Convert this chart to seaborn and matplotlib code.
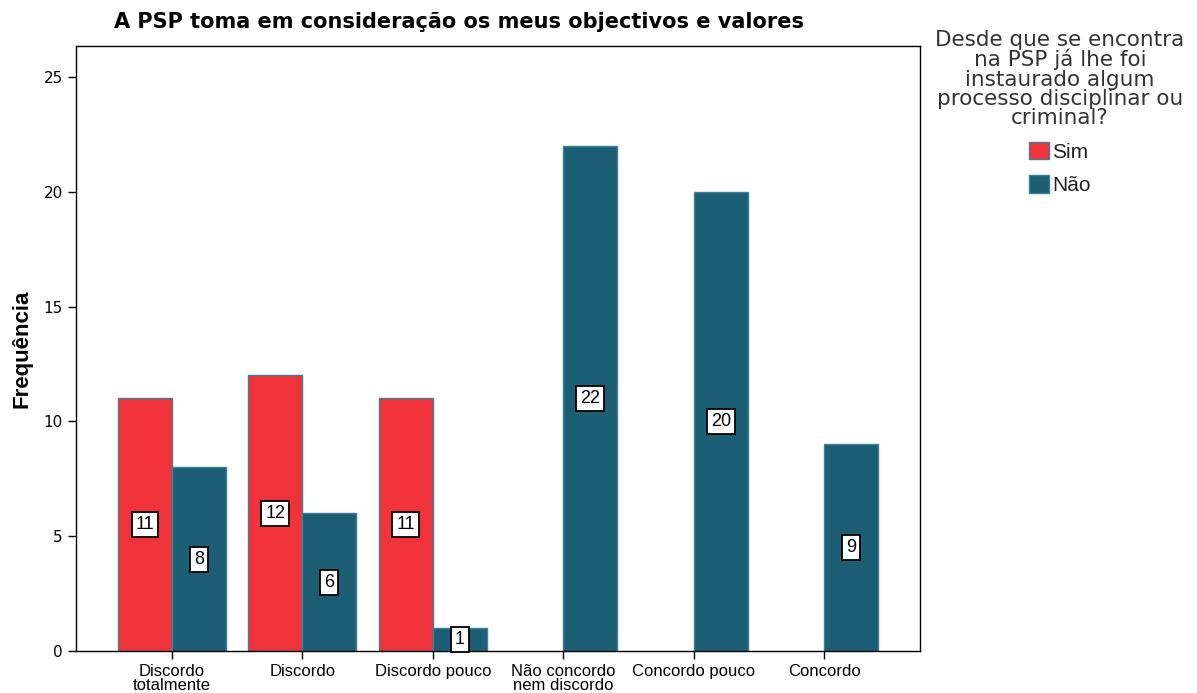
import matplotlib
matplotlib.use("Agg")
import matplotlib.pyplot as plt
import seaborn as sns
import pandas as pd
import numpy as np
from matplotlib.patches import Patch

categories = ["Discordo\ntotalmente", "Discordo", "Discordo pouco",
              "Não concordo\nnem discordo", "Concordo pouco", "Concordo"]
hue_levels = ["Sim", "Não"]
sim_values = [11, 12, 11, None, None, None]
nao_values = [8, 6, 1, 22, 20, 9]
colors = {"Sim": "#F0323A", "Não": "#1C5F74"}

rows = []
for c, s, n in zip(categories, sim_values, nao_values):
    if s is not None:
        rows.append({"cat": c, "grp": "Sim", "val": s})
    if n is not None:
        rows.append({"cat": c, "grp": "Não", "val": n})
df = pd.DataFrame(rows)

sns.set_style("white")
plt.rcParams['font.family'] = ['Liberation Sans', 'DejaVu Sans']
plt.rcParams['text.color'] = 'black'
plt.rcParams['axes.labelcolor'] = 'black'
plt.rcParams['xtick.color'] = 'black'
plt.rcParams['ytick.color'] = 'black'

fig = plt.figure(figsize=(11.97, 6.93), dpi=100)
ax = fig.add_axes([76/1197, 1-651/693, (920-76)/1197, (651-46)/693])

sns.barplot(data=df, x="cat", y="val", hue="grp", order=categories,
            hue_order=hue_levels, palette=colors, width=0.83, dodge=True,
            edgecolor="#3E7F96", linewidth=1.0, ax=ax, legend=False,
            errorbar=None, saturation=1)

for cont in ax.containers:
    for bar in cont:
        h = bar.get_height()
        if h is None or np.isnan(h) or h == 0:
            continue
        ax.text(bar.get_x() + bar.get_width()/2, h/2, f"{int(h)}",
                ha="center", va="center", fontsize=13, color="black",
                bbox=dict(boxstyle="square,pad=0.22", fc="white", ec="black", lw=1.3))

ax.set_xlim(-0.735, 5.735)
ax.set_ylim(0, 26.35)
ax.set_yticks([0, 5, 10, 15, 20, 25])
ax.set_xlabel("")
ax.set_ylabel("Frequência", fontsize=16, fontweight="bold", labelpad=8)
for sp in ax.spines.values():
    sp.set_visible(True)
    sp.set_color("black")
    sp.set_linewidth(1.0)
ax.tick_params(axis="both", which="both", direction="out", length=6, width=1,
               color="black", left=True, bottom=True)
for lbl in ax.get_yticklabels():
    lbl.set_family(['DejaVu Sans'])
    lbl.set_fontsize(11)
for lbl in ax.get_xticklabels():
    lbl.set_family(['Liberation Sans Narrow', 'Liberation Sans', 'DejaVu Sans'])
    lbl.set_fontsize(12)
    lbl.set_linespacing(0.9)

fig.text(459/1197, 1-22/693, "A PSP toma em consideração os meus objectivos e valores",
         ha="center", va="center", fontsize=15, fontweight="bold",
         family=['DejaVu Sans'])

handles = [Patch(facecolor=colors[h], edgecolor="#3E7F96", label=h) for h in hue_levels]
leg = fig.legend(handles=handles, loc="upper center", bbox_to_anchor=(1060/1197, 1-11/693),
                 title="Desde que se encontra\nna PSP já lhe foi\ninstaurado algum\nprocesso disciplinar ou\ncriminal?",
                 frameon=False, prop={'family': ['Liberation Sans Narrow', 'Liberation Sans'], 'size': 15},
                 title_fontproperties={'family': 'DejaVu Sans', 'size': 15.5},
                 handlelength=0.95, handleheight=0.95, handletextpad=0.15, labelspacing=0.65)
leg.get_title().set_color("#333333")
leg.get_title().set_multialignment("center")
leg.get_title().set_linespacing(0.95)
for t in leg.get_texts():
    t.set_color("#222222")

fig.savefig("out.png", dpi=100, facecolor="white")
